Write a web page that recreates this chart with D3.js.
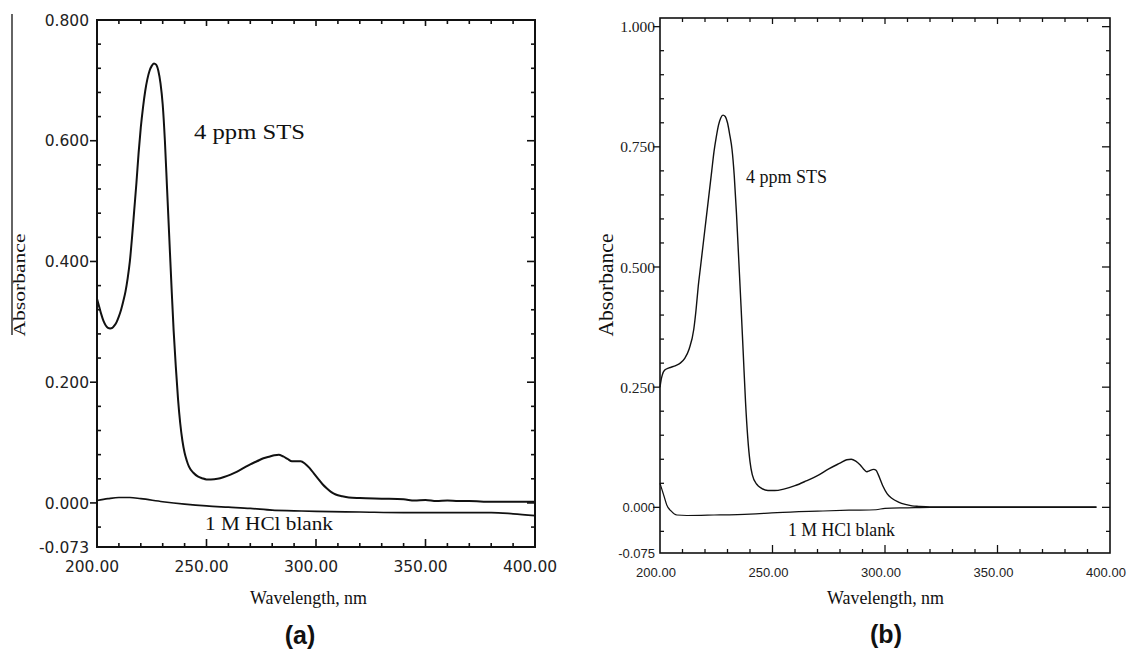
<!DOCTYPE html>
<html><head><meta charset="utf-8">
<script src="https://cdn.jsdelivr.net/npm/d3@7"></script>
<style>body{margin:0;background:#fff}svg{display:block}</style>
</head><body><svg id="c" width="1130" height="652"></svg>
<script>
// ---------- data ----------
const xTickValues = [200, 250, 300, 350, 400];
const xTickLabels = ["200.00", "250.00", "300.00", "350.00", "400.00"];

// panel (a)
const aWave = [200,201,202,203,204,205,206,207,208,209,210,211,212,213,214,215,216,217,218,219,220,221,222,223,224,225,226,227,228,229,230,231,232,233,234,235,236,237,238,239,240,241,242,244,246,248,250,252,255,258,261,264,267,270,273,276,279,281,283,285,287,289,291,293,295,297,299,301,303,305,307,309,312,315,320,330,340,345,350,355,360,365,370,380,390,400];
const aSTS  = [0.338,0.325,0.312,0.301,0.294,0.290,0.289,0.290,0.294,0.300,0.309,0.320,0.334,0.350,0.372,0.400,0.440,0.485,0.530,0.580,0.622,0.655,0.682,0.702,0.716,0.724,0.728,0.726,0.716,0.695,0.660,0.600,0.520,0.440,0.360,0.285,0.225,0.172,0.132,0.103,0.083,0.070,0.060,0.050,0.044,0.041,0.039,0.039,0.040,0.043,0.047,0.052,0.058,0.064,0.069,0.074,0.077,0.079,0.080,0.077,0.073,0.069,0.069,0.069,0.065,0.058,0.049,0.040,0.031,0.024,0.018,0.014,0.011,0.009,0.008,0.007,0.006,0.004,0.005,0.003,0.004,0.003,0.003,0.002,0.002,0.002];
const aBlankWave = [200,205,210,215,220,230,240,250,260,270,280,290,300,320,340,360,380,390,400];
const aBlank     = [0.004,0.007,0.009,0.009,0.007,0.002,-0.002,-0.005,-0.007,-0.009,-0.012,-0.013,-0.014,-0.015,-0.016,-0.016,-0.016,-0.018,-0.021];
const aYDomain = [-0.073, 0.8];
const aYTicks  = [-0.073, 0, 0.2, 0.4, 0.6, 0.8];
const aYLabels = ["-0.073", "0.000", "0.200", "0.400", "0.600", "0.800"];

// panel (b)
const bWave = [200,200.5,201,202,204,207,209,211,213,215,216,217,218,219,220,221,222,223,224,225,226,227,228,229,230,231,232,233,234,235,236,237,238,239,240,241,243,245,248,251,255,260,265,270,275,280,283,285,287,289,291,292,293,295,296,297,299,301,303,306,309,312,315,320,340,360,380,394];
const bSTS  = [0.250,0.265,0.275,0.285,0.290,0.295,0.300,0.310,0.330,0.370,0.410,0.460,0.500,0.540,0.580,0.620,0.660,0.700,0.740,0.770,0.795,0.810,0.816,0.813,0.800,0.775,0.745,0.690,0.610,0.515,0.420,0.320,0.220,0.145,0.095,0.068,0.048,0.040,0.035,0.035,0.038,0.045,0.055,0.066,0.080,0.092,0.099,0.100,0.096,0.088,0.077,0.074,0.076,0.079,0.077,0.068,0.045,0.028,0.019,0.011,0.006,0.003,0.002,0.001,0.001,0.001,0.001,0.001];
const bBlankWave = [200,201,202,203,205,207.5,212,224,240,252,270,284,296,300,310,320,340,360,380,394];
const bBlank     = [0.050,0.035,0.020,0.005,-0.008,-0.016,-0.017,-0.016,-0.014,-0.011,-0.008,-0.006,-0.005,-0.002,-0.001,0.000,0.000,0.000,0.000,0.000];
const bYDomain = [-0.095, 1.018];
const bYTicks  = [-0.095, 0, 0.25, 0.5, 0.75, 1.0];
const bYLabels = ["-0.075", "0.000", "0.250", "0.500", "0.750", "1.000"];

// ---------- drawing ----------
const SERIF = "'Liberation Serif', 'Times New Roman', serif";
const SANS = "'Liberation Sans', Arial, sans-serif";
const WIDE = "'DejaVu Sans', sans-serif";
const svg = d3.select("#c");

function drawPanel(cfg) {
  const x = d3.scaleLinear().domain([200, 400]).range([cfg.left, cfg.right]);
  const y = d3.scaleLinear().domain(cfg.yDomain).range([cfg.bottom, cfg.top]);
  const g = svg.append("g");
  const sw = cfg.axisWidth;

  const xMinor = d3.range(210, 400, 10).filter(v => v % 50 !== 0);
  const xMajor = [250, 300, 350];
  const yMinor = d3.range(Math.ceil(cfg.yDomain[0] / cfg.yStep) * cfg.yStep, cfg.yDomain[1] + 1e-9, cfg.yStep)
    .filter(v => Math.abs(v / cfg.yMajor - Math.round(v / cfg.yMajor)) > 1e-6 && y(v) > cfg.top + 2 && y(v) < cfg.bottom - 2);
  const yMajorInner = cfg.yTicks.filter(v => y(v) > cfg.top + 2 && y(v) < cfg.bottom - 2);

  const tk = g.append("g").attr("stroke", "#111").attr("stroke-width", sw * 0.8);
  tk.selectAll(null).data(xMinor).join("line").attr("x1", d => x(d)).attr("x2", d => x(d)).attr("y1", cfg.bottom).attr("y2", cfg.bottom - 4);
  tk.selectAll(null).data(xMajor).join("line").attr("x1", d => x(d)).attr("x2", d => x(d)).attr("y1", cfg.bottom).attr("y2", cfg.bottom - 8);
  tk.selectAll(null).data(xMinor).join("line").attr("x1", d => x(d)).attr("x2", d => x(d)).attr("y1", cfg.top).attr("y2", cfg.top + 4);
  tk.selectAll(null).data(xMajor).join("line").attr("x1", d => x(d)).attr("x2", d => x(d)).attr("y1", cfg.top).attr("y2", cfg.top + 6);
  tk.selectAll(null).data(yMinor).join("line").attr("y1", d => y(d)).attr("y2", d => y(d)).attr("x1", cfg.left).attr("x2", cfg.left + 4);
  tk.selectAll(null).data(yMajorInner).join("line").attr("y1", d => y(d)).attr("y2", d => y(d)).attr("x1", cfg.left - 7).attr("x2", cfg.left);
  tk.selectAll(null).data(yMinor).join("line").attr("y1", d => y(d)).attr("y2", d => y(d)).attr("x1", cfg.right).attr("x2", cfg.right - 4);
  tk.selectAll(null).data(yMajorInner).join("line").attr("y1", d => y(d)).attr("y2", d => y(d)).attr("x1", cfg.right).attr("x2", cfg.right - 8);

  g.append("rect").attr("x", cfg.left).attr("y", cfg.top)
    .attr("width", cfg.right - cfg.left).attr("height", cfg.bottom - cfg.top)
    .attr("fill", "none").attr("stroke", "#111").attr("stroke-width", sw);

  const line = (xs) => d3.line().x((d, i) => x(xs[i])).y(d => y(d)).curve(d3.curveMonotoneX);
  g.append("path").attr("d", line(cfg.blankWave)(cfg.blank))
    .attr("fill", "none").attr("stroke", "#111").attr("stroke-width", cfg.lineWidth * 0.85);
  g.append("path").attr("d", line(cfg.wave)(cfg.sts))
    .attr("fill", "none").attr("stroke", "#111").attr("stroke-width", cfg.lineWidth).attr("stroke-linejoin", "round");

  g.selectAll(null).data(xTickValues).join("text")
    .attr("x", d => x(d) + cfg.xLabelDx).attr("y", cfg.xLabelY)
    .attr("text-anchor", "middle").style("font-family", cfg.xLabelFont).style("font-size", cfg.xLabelSize + "px")
    .attr("fill", "#222")
    .text((d, i) => xTickLabels[i]);

  g.selectAll(null).data(cfg.yTicks).join("text")
    .attr("x", cfg.yLabelX).attr("y", d => y(d)).attr("dy", "0.36em")
    .attr("text-anchor", "end")
    .style("font-family", (d, i) => cfg.yLabelFont(i)).style("font-size", (d, i) => cfg.yLabelSize(i) + "px")
    .attr("fill", "#222")
    .text((d, i) => cfg.yLabels[i]);

  g.append("text").attr("transform", `translate(${cfg.yTitleX},${cfg.yTitleY}) rotate(-90)`)
    .attr("text-anchor", "middle").style("font-family", SERIF)
    .style("font-size", cfg.yTitleSize + "px").attr("textLength", 103).attr("lengthAdjust", "spacingAndGlyphs")
    .attr("fill", "#111").text("Absorbance");
  g.append("text").attr("x", cfg.xTitleX).attr("y", cfg.xTitleY)
    .style("font-family", SERIF)
    .style("font-size", cfg.xTitleSize + "px").attr("textLength", 117).attr("lengthAdjust", "spacingAndGlyphs")
    .attr("fill", "#111").text("Wavelength, nm");

  cfg.notes.forEach(n => {
    g.append("text").attr("x", n.x).attr("y", n.y)
      .style("font-family", SERIF)
      .style("font-size", n.size + "px").attr("textLength", n.len).attr("lengthAdjust", "spacingAndGlyphs")
      .attr("fill", "#111").text(n.text);
  });

  g.append("text").attr("x", cfg.letterX).attr("y", cfg.letterY)
    .attr("text-anchor", "middle").style("font-family", SANS)
    .style("font-weight", "bold").style("font-size", "25px").attr("fill", "#111").text(cfg.letter);
}

drawPanel({
  left: 97, right: 535, top: 20, bottom: 547,
  yDomain: aYDomain, yTicks: aYTicks, yLabels: aYLabels, yStep: 0.04, yMajor: 0.2,
  wave: aWave, sts: aSTS, blankWave: aBlankWave, blank: aBlank,
  axisWidth: 2, lineWidth: 2,
  xLabelDx: -5, xLabelY: 572, xLabelFont: WIDE, xLabelSize: 15.5,
  yLabelX: 89, yLabelFont: () => WIDE, yLabelSize: () => 15.5,
  yTitleX: 25, yTitleY: 285, yTitleSize: 17,
  xTitleX: 250, xTitleY: 604, xTitleSize: 18,
  notes: [
    { text: "4 ppm STS", x: 194, y: 139, size: 20, len: 111 },
    { text: "1 M HCl blank", x: 205, y: 530, size: 18, len: 128 }
  ],
  letter: "(a)", letterX: 300, letterY: 644
});

drawPanel({
  left: 660, right: 1110, top: 18, bottom: 553,
  yDomain: bYDomain, yTicks: bYTicks, yLabels: bYLabels, yStep: 0.05, yMajor: 0.25,
  wave: bWave, sts: bSTS, blankWave: bBlankWave, blank: bBlank,
  axisWidth: 1.6, lineWidth: 1.4,
  xLabelDx: -4, xLabelY: 577, xLabelFont: SANS, xLabelSize: 13,
  yLabelX: 655,
  yLabelFont: i => i < 2 ? SANS : SERIF,
  yLabelSize: i => i < 2 ? 13 : 15.5,
  yTitleX: 613, yTitleY: 285, yTitleSize: 21,
  xTitleX: 827, xTitleY: 604, xTitleSize: 19,
  notes: [
    { text: "4 ppm STS", x: 746, y: 183, size: 18, len: 81 },
    { text: "1 M HCl blank", x: 788, y: 536, size: 18, len: 107 }
  ],
  letter: "(b)", letterX: 886, letterY: 643
});

// stray vertical rule at the far left of panel (a)
svg.append("line").attr("x1", 12).attr("x2", 12).attr("y1", 14).attr("y2", 335)
  .attr("stroke", "#111").attr("stroke-width", 1.3);
</script>
</body></html>
